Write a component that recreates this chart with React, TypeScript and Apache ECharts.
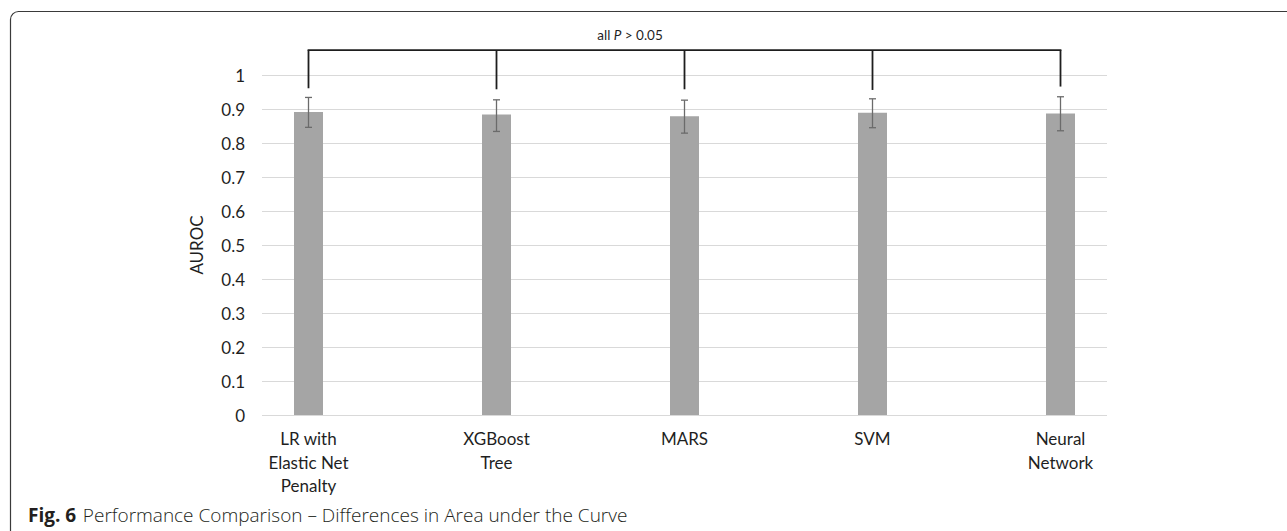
import React, { useEffect, useRef } from "react";
import * as echarts from "echarts";

const categories = ["LR with\nElastic Net\nPenalty", "XGBoost\nTree", "MARS", "SVM", "Neural\nNetwork"];
const auroc = [0.891, 0.884, 0.879, 0.889, 0.887];
const ciLow = [0.846, 0.834, 0.829, 0.845, 0.836];
const ciHigh = [0.934, 0.927, 0.926, 0.930, 0.936];
const bracketTop = 1.073;
const bracketDrops = [0.961, 0.958, 0.958, 0.956, 0.966];
const yTicks = [0, 0.1, 0.2, 0.3, 0.4, 0.5, 0.6, 0.7, 0.8, 0.9, 1];
const caption = "Performance Comparison – Differences in Area under the Curve";

export default function App() {
  const ref = useRef<HTMLDivElement>(null);
  useEffect(() => {
    if (!ref.current) return;
    const chart = echarts.init(ref.current, null, { renderer: "svg" });
    const labelFont = "Lato, 'Liberation Sans', sans-serif";
    const option: any = {
      animation: false,
      backgroundColor: "#ffffff",
      grid: [
        { left: 262, right: 180, top: 75, bottom: 116 },
        { left: 214.5, right: 132.5, top: 75, bottom: 116 },
      ],
      xAxis: [
        { type: "value", gridIndex: 0, min: 0, max: 1, show: false },
        {
          type: "category",
          gridIndex: 1,
          data: categories,
          axisLine: { show: false },
          axisTick: { show: false },
          axisLabel: {
            color: "#1f1f1f",
            fontFamily: labelFont,
            fontSize: 17,
            lineHeight: 23.5,
            margin: 12,
            interval: 0,
            align: "center",
          },
        },
      ],
      yAxis: [
        {
          type: "value",
          gridIndex: 0,
          min: 0,
          max: 1,
          interval: 0.1,
          name: "AUROC",
          nameLocation: "middle",
          nameRotate: 90,
          nameGap: 57,
          nameTextStyle: { color: "#1f1f1f", fontFamily: labelFont, fontSize: 17 },
          axisLine: { show: false },
          axisTick: { show: false },
          splitLine: { show: true, lineStyle: { color: "#d9d9d9", width: 1 } },
          axisLabel: {
            color: "#1f1f1f",
            fontFamily: labelFont,
            fontSize: 17,
            margin: 17,
            formatter: (v: number) => {
              const t = yTicks.find((y) => Math.abs(y - v) < 1e-6);
              return t === undefined ? "" : String(t);
            },
          },
        },
        { type: "value", gridIndex: 1, min: 0, max: 1, show: false },
      ],
      series: [
        {
          type: "bar",
          xAxisIndex: 1,
          yAxisIndex: 1,
          data: auroc,
          barWidth: 29,
          itemStyle: { color: "#a5a5a5" },
          silent: true,
        },
        {
          type: "custom",
          xAxisIndex: 1,
          yAxisIndex: 1,
          clip: false,
          silent: true,
          data: categories.map((_, i) => [i, ciLow[i], ciHigh[i]]),
          renderItem: (params: any, api: any) => {
            const i = api.value(0);
            const lo = api.coord([i, api.value(1)]);
            const hi = api.coord([i, api.value(2)]);
            const style = { stroke: "#6b6b6b", lineWidth: 1.3 };
            const c = 3.5;
            return {
              type: "group",
              children: [
                { type: "line", shape: { x1: lo[0], y1: lo[1], x2: hi[0], y2: hi[1] }, style },
                { type: "line", shape: { x1: lo[0] - c, y1: lo[1], x2: lo[0] + c, y2: lo[1] }, style },
                { type: "line", shape: { x1: hi[0] - c, y1: hi[1], x2: hi[0] + c, y2: hi[1] }, style },
              ],
            };
          },
          z: 5,
        },
        {
          type: "custom",
          xAxisIndex: 1,
          yAxisIndex: 1,
          clip: false,
          silent: true,
          data: categories.map((_, i) => [i, bracketDrops[i]]),
          renderItem: (params: any, api: any) => {
            const i = api.value(0);
            const top = api.coord([i, bracketTop]);
            const bot = api.coord([i, api.value(1)]);
            const style = { stroke: "#1e1e1e", lineWidth: 1.8 };
            const children: any[] = [
              { type: "line", shape: { x1: top[0], y1: top[1], x2: bot[0], y2: bot[1] }, style },
            ];
            if (params.dataIndex === 0) {
              const end = api.coord([categories.length - 1, bracketTop]);
              children.push({
                type: "line",
                shape: { x1: top[0] - 0.9, y1: top[1], x2: end[0] + 0.9, y2: end[1] },
                style,
              });
            }
            return { type: "group", children };
          },
          z: 6,
        },
      ],
      graphic: [
        {
          type: "rect",
          shape: { x: 10.5, y: 11.5, width: 1400, height: 700, r: [8, 0, 0, 0] },
          style: { fill: "none", stroke: "#3a3a3a", lineWidth: 1.2 },
          silent: true,
        },
        {
          type: "text",
          x: 630,
          y: 35,
          style: {
            text: "{a|all }{p|P}{a| > 0.05}",
            align: "center",
            verticalAlign: "middle",
            rich: {
              a: { fontFamily: labelFont, fontSize: 13.5, fill: "#1f1f1f" },
              p: { fontFamily: labelFont, fontSize: 13.5, fontStyle: "italic", fill: "#1f1f1f" },
            },
          },
          silent: true,
        },
        {
          type: "text",
          x: 28,
          y: 515,
          style: {
            text: "{b|Fig. 6}  {c|" + caption + "}",
            verticalAlign: "middle",
            rich: {
              b: { fontFamily: "'Open Sans', sans-serif", fontSize: 19, fontWeight: "bold", fill: "#231f20" },
              c: { fontFamily: "'Open Sans', sans-serif", fontSize: 19, fontWeight: 300, fill: "#231f20" },
            },
          },
          silent: true,
        },
      ],
    };
    chart.setOption(option);
    return () => chart.dispose();
  }, []);
  return (
    <div
      ref={ref}
      style={{ position: "absolute", left: 0, top: 0, width: 1287, height: 531 }}
    />
  );
}
